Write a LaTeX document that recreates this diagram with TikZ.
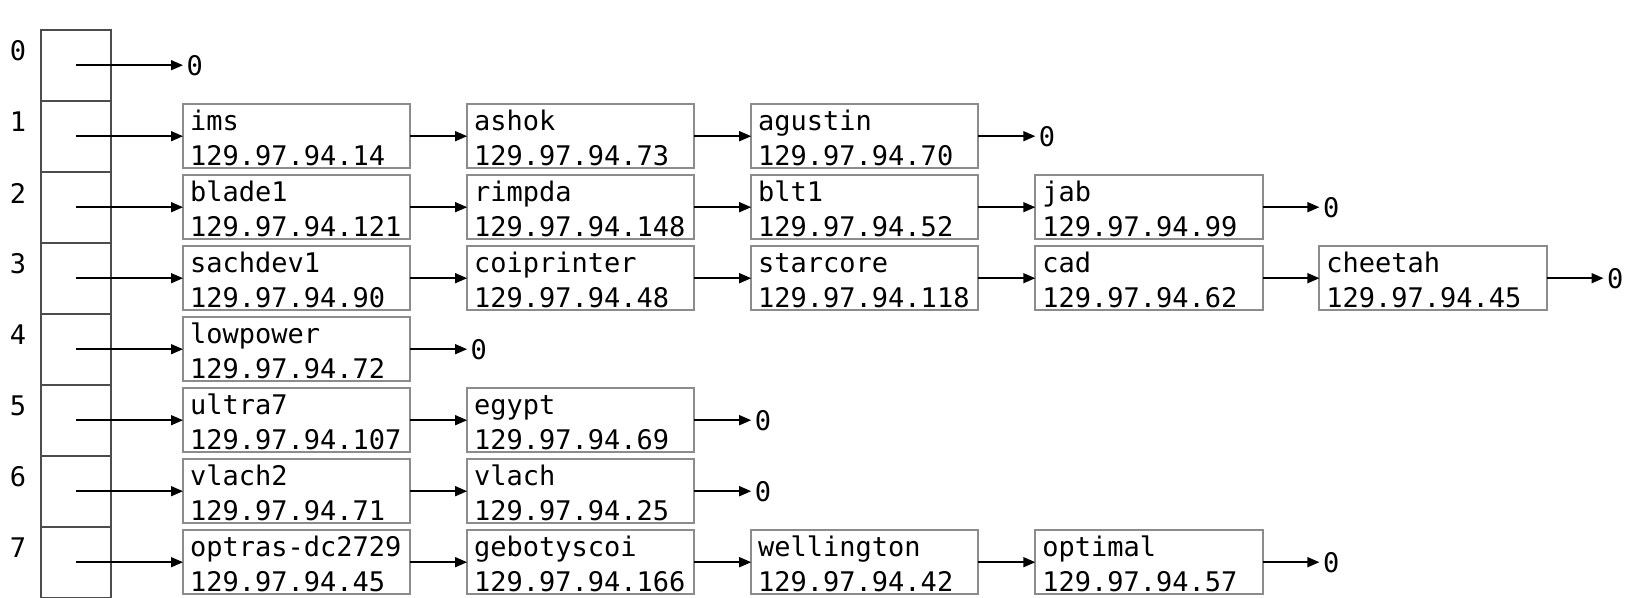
\documentclass[tikz,border=0pt]{standalone}
\usepackage{fontspec}
\setmonofont{DejaVu Sans Mono}
\usetikzlibrary{arrows.meta,positioning}

\definecolor{boxgray}{gray}{0.55}
\definecolor{tabgray}{gray}{0.3}

\tikzset{
  every node/.style={font=\ttfamily\fontsize{13.5pt}{17.5pt}\selectfont},
  cell/.style={draw=tabgray, line width=1pt, minimum width=35pt, minimum height=35.5pt, inner sep=0pt, outer sep=0pt},
  idx/.style={inner sep=0pt},
  host/.style={draw=boxgray, line width=1pt, text width=106.6pt, inner xsep=3.5pt, inner ysep=1pt,
    minimum height=32pt, align=left, outer sep=0pt},
  nul/.style={inner sep=1.8pt, outer sep=0pt},
  ptr/.style={-{Triangle[length=6pt,width=5pt]}, line width=0.75pt},
}
\newcommand{\hostlines}[2]{\rule{0pt}{12pt}#1\\#2\rule[-0.5pt]{0pt}{0.5pt}}

\begin{document}
\begin{tikzpicture}[x=0.5pt, y=-0.5pt, node distance=28.45pt]
    \useasboundingbox (0,0) rectangle (1645,598);

    % Table
    \foreach \i in {0,...,7} {
      \node[cell] (c\i) at (76, 65.2+71*\i) {};
      \node[idx] (n\i) at (18, 51+71*\i) {\i};
    }

    % Row 0
    \node[nul, anchor=west] (z0) at (183, 65.2) {0};

    % Row 1
    \node[host, anchor=west] (h11) at (183, 136.2) {\hostlines{ims}{129.97.94.14}};
    \node[host, right=of h11] (h12) {\hostlines{ashok}{129.97.94.73}};
    \node[host, right=of h12] (h13) {\hostlines{agustin}{129.97.94.70}};
    \node[nul, right=of h13] (z1) {0};

    % Row 2
    \node[host, anchor=west] (h21) at (183, 207.2) {\hostlines{blade1}{129.97.94.121}};
    \node[host, right=of h21] (h22) {\hostlines{rimpda}{129.97.94.148}};
    \node[host, right=of h22] (h23) {\hostlines{blt1}{129.97.94.52}};
    \node[host, right=of h23] (h24) {\hostlines{jab}{129.97.94.99}};
    \node[nul, right=of h24] (z2) {0};

    % Row 3
    \node[host, anchor=west] (h31) at (183, 278.2) {\hostlines{sachdev1}{129.97.94.90}};
    \node[host, right=of h31] (h32) {\hostlines{coiprinter}{129.97.94.48}};
    \node[host, right=of h32] (h33) {\hostlines{starcore}{129.97.94.118}};
    \node[host, right=of h33] (h34) {\hostlines{cad}{129.97.94.62}};
    \node[host, right=of h34] (h35) {\hostlines{cheetah}{129.97.94.45}};
    \node[nul, right=of h35] (z3) {0};

    % Row 4
    \node[host, anchor=west] (h41) at (183, 349.2) {\hostlines{lowpower}{129.97.94.72}};
    \node[nul, right=of h41] (z4) {0};

    % Row 5
    \node[host, anchor=west] (h51) at (183, 420.2) {\hostlines{ultra7}{129.97.94.107}};
    \node[host, right=of h51] (h52) {\hostlines{egypt}{129.97.94.69}};
    \node[nul, right=of h52] (z5) {0};

    % Row 6
    \node[host, anchor=west] (h61) at (183, 491.2) {\hostlines{vlach2}{129.97.94.71}};
    \node[host, right=of h61] (h62) {\hostlines{vlach}{129.97.94.25}};
    \node[nul, right=of h62] (z6) {0};

    % Row 7
    \node[host, anchor=west] (h71) at (183, 562.2) {\hostlines{optras-dc2729}{129.97.94.45}};
    \node[host, right=of h71] (h72) {\hostlines{gebotyscoi}{129.97.94.166}};
    \node[host, right=of h72] (h73) {\hostlines{wellington}{129.97.94.42}};
    \node[host, right=of h73] (h74) {\hostlines{optimal}{129.97.94.57}};
    \node[nul, right=of h74] (z7) {0};

    % Pointers from the table
    \draw[ptr] (c0.center) -- (z0);
    \foreach \i in {1,...,7} \draw[ptr] (c\i.center) -- (h\i1);

    % Pointers along the chains
    \foreach \a/\b in {h11/h12, h12/h13, h13/z1,
                       h21/h22, h22/h23, h23/h24, h24/z2,
                       h31/h32, h32/h33, h33/h34, h34/h35, h35/z3,
                       h41/z4,
                       h51/h52, h52/z5,
                       h61/h62, h62/z6,
                       h71/h72, h72/h73, h73/h74, h74/z7}
      \draw[ptr] (\a) -- (\b);
\end{tikzpicture}
\end{document}
